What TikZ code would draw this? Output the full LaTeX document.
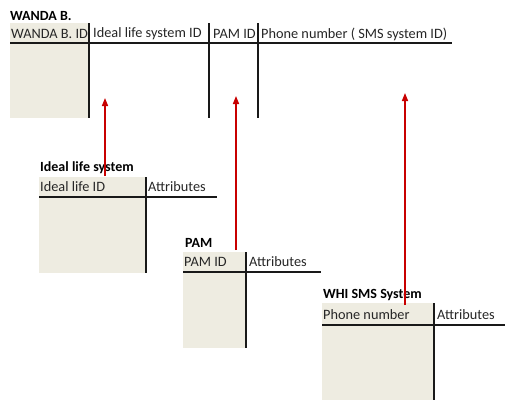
\documentclass[tikz,border=0pt]{standalone}
\usepackage{fontspec}
\setmainfont{Carlito}
\usetikzlibrary{arrows.meta}
\definecolor{greyfill}{HTML}{EEECE1}
\definecolor{arrred}{RGB}{200,0,0}
\tikzset{
  hdr/.style={anchor=west,inner sep=0pt,font=\fontsize{14.3}{16}\selectfont,text=black!85},
  ttl/.style={anchor=west,inner sep=0pt,font=\fontsize{14}{16}\selectfont\bfseries},
  rule/.style={line width=2pt,black!90},
  fk/.style={arrred,line width=1.5pt,-{Triangle[length=8pt,width=6pt]}}
}
\begin{document}
\begin{tikzpicture}[x=1pt,y=-1pt]
\useasboundingbox (0,0) rectangle (507,400);
% WANDA B.
\fill[greyfill] (10,23) rectangle (89,118);
\node[ttl] (tw) at (10,16) {WANDA B.};
\node[hdr] (w1) at (11,34) {WANDA B. ID};
\node[hdr] (w2) at (93,34) {Ideal life system ID};
\node[hdr] (w3) at (213,34) {PAM ID};
\node[hdr] (w4) at (261,34) {Phone number ( SMS system ID)};
\draw[rule] (10,43) -- (452,43);
\draw[rule] (89,23) -- (89,118);
\draw[rule] (209,23) -- (209,118);
\draw[rule] (258,23) -- (258,118);
% Ideal life system
\fill[greyfill] (39,177) rectangle (145,273);
\node[ttl] (ti) at (40,168) {Ideal life system};
\node[hdr] (i1) at (40,187) {Ideal life ID};
\node[hdr] (i2) at (148,187) {Attributes};
\draw[rule] (39,197) -- (217,197);
\draw[rule] (146,177) -- (146,273);
% PAM
\fill[greyfill] (183,252) rectangle (245,348);
\node[ttl] (tp) at (185,243) {PAM};
\node[hdr] (p1) at (184,262) {PAM ID};
\node[hdr] (p2) at (249,262) {Attributes};
\draw[rule] (183,272) -- (321,272);
\draw[rule] (246,252) -- (246,348);
% WHI SMS System
\fill[greyfill] (322,303) rectangle (433,400);
\node[ttl] (ts) at (323,295) {WHI SMS System};
\node[hdr] (s1) at (323,315) {Phone number};
\node[hdr] (s2) at (437,315) {Attributes};
\draw[rule] (322,325) -- (505,325);
\draw[rule] (434,303) -- (434,400);
% foreign key arrows
\coordinate (a1s) at (105,176);
\coordinate (a1e) at (105,98);
\coordinate (a2s) at (236,250);
\coordinate (a2e) at (236,96);
\coordinate (a3s) at (405,305);
\coordinate (a3e) at (405,93);
\draw[fk] (a1s) -- (a1e);
\draw[fk] (a2s) -- (a2e);
\draw[fk] (a3s) -- (a3e);
\end{tikzpicture}
\end{document}
